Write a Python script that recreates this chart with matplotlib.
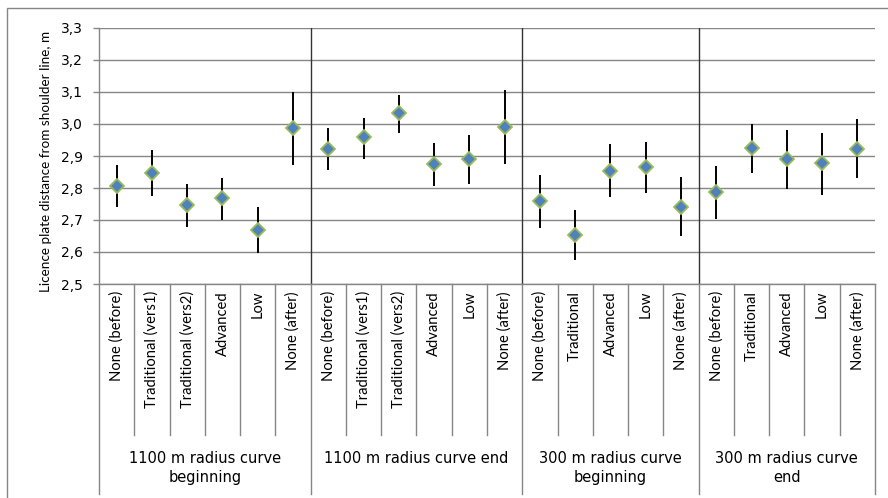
import matplotlib
matplotlib.use("Agg")
import matplotlib.pyplot as plt
from matplotlib.patches import Rectangle
from matplotlib.lines import Line2D
import numpy as np

plt.rcParams['font.family'] = ['Lato', 'DejaVu Sans']

groups = ["1100 m radius curve\nbeginning", "1100 m radius curve end",
          "300 m radius curve\nbeginning", "300 m radius curve\nend"]
group_sizes = [6, 6, 5, 5]
categories = ["None (before)", "Traditional (vers1)", "Traditional (vers2)", "Advanced", "Low", "None (after)",
              "None (before)", "Traditional (vers1)", "Traditional (vers2)", "Advanced", "Low", "None (after)",
              "None (before)", "Traditional", "Advanced", "Low", "None (after)",
              "None (before)", "Traditional", "Advanced", "Low", "None (after)"]
means = [2.807, 2.848, 2.746, 2.769, 2.669, 2.988,
         2.922, 2.958, 3.033, 2.875, 2.890, 2.992,
         2.758, 2.654, 2.854, 2.866, 2.742,
         2.786, 2.924, 2.890, 2.877, 2.923]
upper = [2.873, 2.918, 2.813, 2.831, 2.741, 3.101,
         2.986, 3.020, 3.091, 2.941, 2.965, 3.107,
         2.841, 2.732, 2.936, 2.945, 2.834,
         2.870, 3.001, 2.980, 2.973, 3.016]
lower = [2.741, 2.774, 2.678, 2.701, 2.597, 2.873,
         2.855, 2.892, 2.972, 2.807, 2.813, 2.874,
         2.674, 2.574, 2.773, 2.783, 2.649,
         2.702, 2.847, 2.796, 2.779, 2.830]
yticks = [2.5, 2.6, 2.7, 2.8, 2.9, 3.0, 3.1, 3.2, 3.3]
ylabel = "Licence plate distance from shoulder line, m"

W, H = 888, 498
fig = plt.figure(figsize=(W / 100, H / 100), dpi=100)
L, R, T, B = 99, 875, 28, 284
ax = fig.add_axes([L / W, (H - B) / H, (R - L) / W, (B - T) / H])

grid_c = '#868686'
hfont = ['DejaVu Sans']
n = len(categories)
x = np.arange(n)
m = np.array(means)
yerr = np.vstack([m - np.array(lower), np.array(upper) - m])

ax.set_xlim(-0.5, n - 0.5)
ax.set_ylim(2.5, 3.3)
ax.set_yticks(yticks)
ax.set_yticklabels([f"{v:.1f}".replace('.', ',') for v in yticks], fontsize=10, family=hfont)
ax.set_xticks([])
for v in yticks:
    ax.axhline(v, color=grid_c, lw=1.0, zorder=1)
for s in ['top', 'right']:
    ax.spines[s].set_visible(False)
for s in ['left', 'bottom']:
    ax.spines[s].set_color(grid_c)
    ax.spines[s].set_linewidth(1.0)
ax.tick_params(axis='y', length=4.5, color=grid_c, width=1.0, pad=7)

ax.errorbar(x, m, yerr=yerr, fmt='none', ecolor='black', elinewidth=1.4, capsize=0, zorder=3)
ax.plot(x, m, linestyle='none', marker='D', markersize=6.8, markerfacecolor='#4F81BD',
        markeredgecolor='#9BBB59', markeredgewidth=1.3, zorder=4)

# group separators
bounds = np.cumsum(group_sizes)[:-1] - 0.5
for b in bounds:
    ax.axvline(b, color='#333333', lw=1.0, zorder=2)

# label table lines
xt = ax.get_xaxis_transform()
cat_bottom = -(435 - B) / (B - T)
grp_bottom = -(494 - B) / (B - T)
for i in range(n + 1):
    xb = i - 0.5
    if i == 0 or i == n or (xb in bounds):
        yb = grp_bottom
    else:
        yb = cat_bottom
    ax.add_line(Line2D([xb, xb], [0, yb], transform=xt, color=grid_c, lw=1.0, clip_on=False))

lab_top = -(291 - B) / (B - T)
for i, c in enumerate(categories):
    ax.text(i, lab_top, c, transform=xt, rotation=90, ha='center', va='top', fontsize=10.6)

grp_y = -(451 - B) / (B - T)
start = 0
for g, sz in zip(groups, group_sizes):
    ax.text(start + sz / 2 - 0.5, grp_y, g, transform=xt, ha='center', va='top',
            fontsize=10.5, linespacing=1.3, family=hfont)
    start += sz

fig.text(46 / W, 1 - 161 / H, ylabel, rotation=90, ha='center', va='center', fontsize=9.7)

fig.patches.append(Rectangle((7 / W, -0.1), 1.2, 1 - 8 / H + 0.1, transform=fig.transFigure,
                             fill=False, edgecolor=grid_c, lw=1.0))

fig.savefig("out.png", dpi=100)
